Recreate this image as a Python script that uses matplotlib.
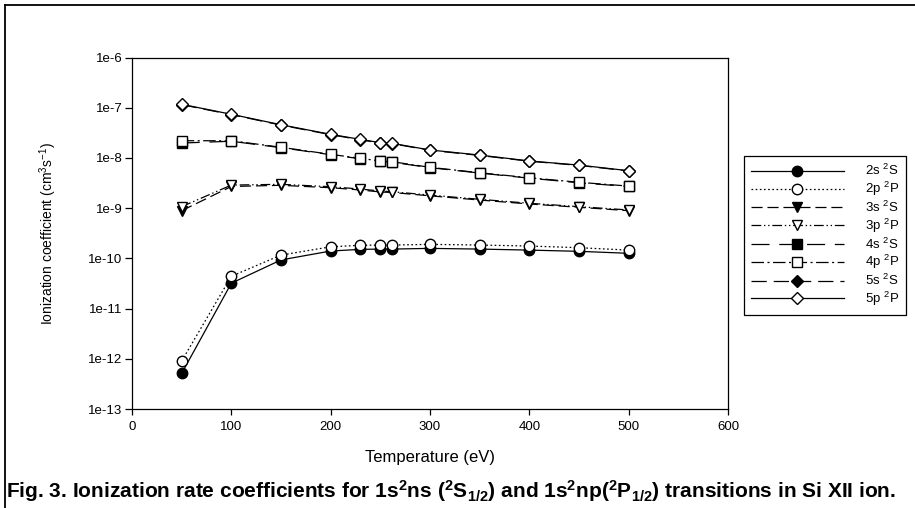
import matplotlib
matplotlib.use("Agg")
import matplotlib.pyplot as plt
from matplotlib.lines import Line2D

plt.rcParams['font.family'] = ['Liberation Sans', 'DejaVu Sans']
plt.rcParams['mathtext.default'] = 'regular'
plt.rcParams['lines.scale_dashes'] = False

# ---------------- data ----------------
temps = [50, 100, 150, 200, 230, 250, 262, 300, 350, 400, 450, 500]
rate_2s = [5.1e-13, 3.2e-11, 9.3e-11, 1.40e-10, 1.51e-10, 1.53e-10, 1.53e-10, 1.58e-10, 1.53e-10, 1.46e-10, 1.38e-10, 1.26e-10]
rate_2p = [9.0e-13, 4.4e-11, 1.16e-10, 1.70e-10, 1.82e-10, 1.84e-10, 1.84e-10, 1.90e-10, 1.84e-10, 1.76e-10, 1.63e-10, 1.46e-10]
rate_3s = [8.9e-10, 2.7e-9, 2.85e-9, 2.55e-9, 2.3e-9, 2.1e-9, 2.05e-9, 1.76e-9, 1.45e-9, 1.21e-9, 1.04e-9, 8.9e-10]
rate_3p = [1.07e-9, 2.88e-9, 2.98e-9, 2.67e-9, 2.40e-9, 2.19e-9, 2.12e-9, 1.82e-9, 1.50e-9, 1.25e-9, 1.07e-9, 9.2e-10]
rate_4s = [1.98e-8, 2.15e-8, 1.6e-8, 1.16e-8, 9.6e-9, 8.5e-9, 8.2e-9, 6.4e-9, 5.0e-9, 3.95e-9, 3.2e-9, 2.7e-9]
rate_4p = [2.2e-8, 2.2e-8, 1.63e-8, 1.18e-8, 9.8e-9, 8.7e-9, 8.4e-9, 6.5e-9, 5.07e-9, 4.03e-9, 3.27e-9, 2.75e-9]
rate_5s = [1.15e-7, 7.3e-8, 4.5e-8, 2.9e-8, 2.3e-8, 1.98e-8, 1.92e-8, 1.42e-8, 1.12e-8, 8.6e-9, 7.1e-9, 5.5e-9]
rate_5p = [1.17e-7, 7.4e-8, 4.58e-8, 2.95e-8, 2.34e-8, 2.01e-8, 1.95e-8, 1.44e-8, 1.14e-8, 8.7e-9, 7.2e-9, 5.56e-9]

labels = ["2s $^2$S", "2p $^2$P", "3s $^2$S", "3p $^2$P",
          "4s $^2$S", "4p $^2$P", "5s $^2$S", "5p $^2$P"]
series = [rate_2s, rate_2p, rate_3s, rate_3p, rate_4s, rate_4p, rate_5s, rate_5p]

ytick_vals = [1e-13, 1e-12, 1e-11, 1e-10, 1e-9, 1e-8, 1e-7, 1e-6]
ytick_labels = ["1e-13", "1e-12", "1e-11", "1e-10", "1e-9", "1e-8", "1e-7", "1e-6"]
xtick_vals = [0, 100, 200, 300, 400, 500, 600]

# ---------------- styles ----------------
markers = ['o', 'o', 'v', 'v', 's', 's', 'D', 'D']
fills = ['black', 'white', 'black', 'white', 'black', 'white', 'black', 'white']
msizes = [7.5, 7.5, 7.5, 7.5, 6.5, 6.5, 6.5, 6.5]
styles = ['-', (0, (1.2, 1.8)), (0, (8, 3.5)), (0, (7, 2, 1, 2, 1, 2)),
          (0, (13, 7)), (0, (9, 2.5, 1.5, 2.5)), (0, (11, 5)), '-']

W, H = 915, 508
fig = plt.figure(figsize=(W / 100, H / 100), dpi=100)
ax = fig.add_axes([132 / W, 1 - 409 / H, 596 / W, 351.5 / H])

for vals, lab, m, fc, ms, ls in zip(series, labels, markers, fills, msizes, styles):
    ax.plot(temps, vals, linestyle=ls, color='black', linewidth=0.9,
            marker=m, markersize=ms, markerfacecolor=fc,
            markeredgecolor='black', markeredgewidth=1.0, label=lab)

ax.set_yscale('log')
ax.set_xlim(0, 600)
ax.set_ylim(1e-13, 1e-6)
ax.set_yticks(ytick_vals)
ax.set_yticklabels(ytick_labels)
ax.yaxis.set_minor_locator(matplotlib.ticker.NullLocator())
ax.set_xticks(xtick_vals)
ax.tick_params(axis='y', direction='out', length=5, width=0.9, pad=2, labelsize=9.5)
ax.tick_params(axis='x', direction='out', length=4.5, width=0.9, pad=4, labelsize=9.5)
for s in ax.spines.values():
    s.set_linewidth(0.9)

ax.set_xlabel("Temperature (eV)", fontsize=12)
ax.xaxis.set_label_coords(0.5, -0.138)
ax.xaxis.label.set_va('center')
ax.set_ylabel("Ionization coefficient (cm$^3$s$^{-1}$)", fontsize=10)
ax.yaxis.set_label_coords(-0.141, 0.5)
ax.yaxis.label.set_va('center')

leg = fig.legend(loc='upper left', bbox_to_anchor=(744 / W, 1 - 156 / H),
                 bbox_transform=fig.transFigure, fontsize=9.5, frameon=True,
                 fancybox=False, edgecolor='black', framealpha=1,
                 handlelength=7.0, handletextpad=1.6, labelspacing=0.12,
                 borderpad=0.55, borderaxespad=0)
leg.get_frame().set_linewidth(0.9)

# outer frame (cropped at right and bottom)
fig.add_artist(Line2D([5 / W, 5 / W], [0, 1 - 5 / H], color='black', linewidth=1.3,
                      transform=fig.transFigure))
fig.add_artist(Line2D([5 / W, 1], [1 - 5 / H, 1 - 5 / H], color='black', linewidth=1.3,
                      transform=fig.transFigure))

fig.text(6 / W, 1 - 491 / H,
         "Fig. 3. Ionization rate coefficients for 1s$^2$ns ($^2$S$_{1/2}$) and "
         "1s$^2$np($^2$P$_{1/2}$) transitions in Si XII ion.",
         fontsize=15, fontweight='bold', ha='left', va='center')

fig.savefig("out.png", dpi=100)
